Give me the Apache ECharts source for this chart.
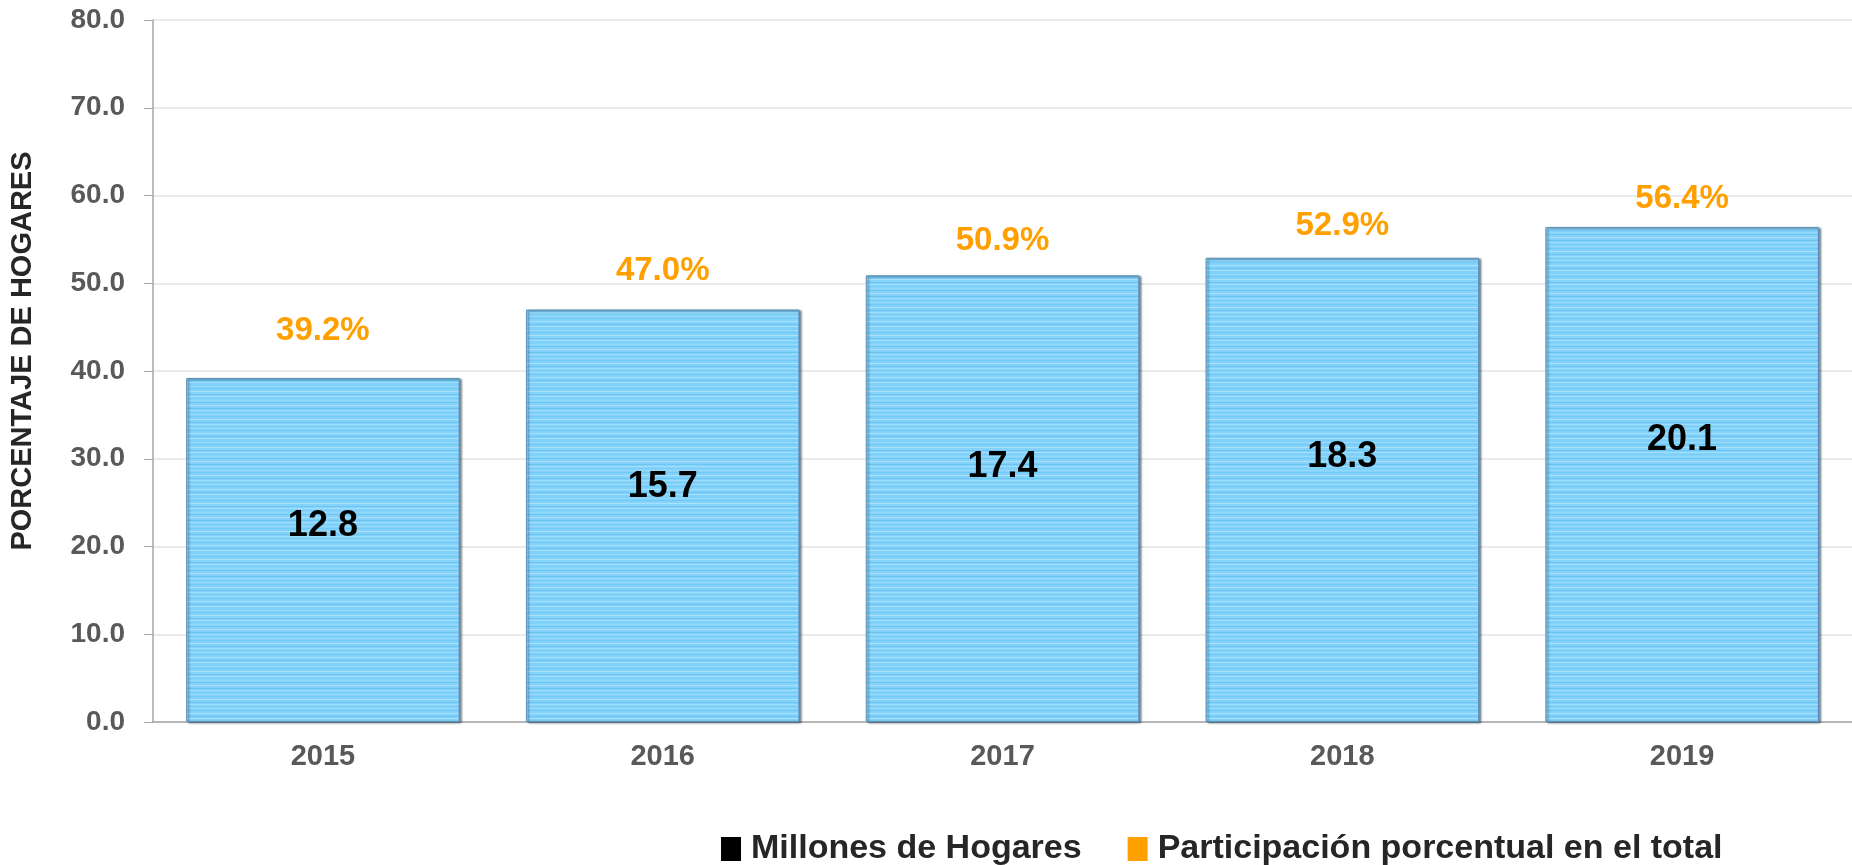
<!DOCTYPE html>
<html>
<head>
<meta charset="utf-8">
<title>Hogares</title>
<script src="https://cdn.jsdelivr.net/npm/echarts@6/dist/echarts.min.js"></script>
<style>
  html, body { margin: 0; padding: 0; background: #fff; }
  #chart { width: 1852px; height: 865px; }
</style>
</head>
<body>
<div id="chart"></div>
<script>
var years = ['2015', '2016', '2017', '2018', '2019'];
var participacion = [39.2, 47.0, 50.9, 52.9, 56.4];   // % del total
var millones = [12.8, 15.7, 17.4, 18.3, 20.1];        // millones de hogares

// textura de lineas horizontales de las barras
function stripes() {
    var rows = ['#84d2f9', '#84d2f9', '#6ac7f5', '#84d2f9', '#a2defb', '#84d2f9',
                '#7ccff8', '#84d2f9', '#95d9fa', '#84d2f9', '#70caf6', '#84d2f9',
                '#84d2f9', '#a8e1fb'];
    var c = document.createElement('canvas');
    c.width = 8;
    c.height = rows.length;
    var ctx = c.getContext('2d');
    rows.forEach(function (col, i) {
        ctx.fillStyle = col;
        ctx.fillRect(0, i, 8, 1);
    });
    return c;
}

var font = '"Liberation Sans", Arial, sans-serif';
var noShadow = { borderWidth: 0, shadowBlur: 0, shadowOffsetX: 0, shadowOffsetY: 0 };
var chart = echarts.init(document.getElementById('chart'));

chart.setOption({
    animation: false,
    textStyle: { fontFamily: font },
    grid: { left: 151, top: 20, bottom: 143, width: 1713 },
    legend: {
        left: 716,
        top: 827,
        itemWidth: 20,
        itemHeight: 24,
        itemGap: 46,
        textStyle: { fontSize: 34, fontWeight: 'bold', color: '#262626', padding: [0, 0, 0, 5] },
        data: [
            { name: 'Millones de Hogares', icon: 'rect', itemStyle: Object.assign({ color: '#000' }, noShadow) },
            { name: 'Participación porcentual en el total', icon: 'rect', itemStyle: Object.assign({ color: '#ffa000' }, noShadow) }
        ]
    },
    xAxis: {
        type: 'category',
        data: years,
        axisLine: { lineStyle: { color: '#a6a6a6', width: 1.5 } },
        axisTick: { length: 10, lineStyle: { color: '#8c8c8c', width: 1.5 } },
        axisLabel: { fontSize: 29, fontWeight: 'bold', color: '#595959', margin: 20 }
    },
    yAxis: [
        {
            type: 'value',
            min: 0,
            max: 80,
            interval: 10,
            name: 'PORCENTAJE DE HOGARES',
            nameLocation: 'middle',
            nameGap: 116,
            nameTextStyle: { fontSize: 29, fontWeight: 'bold', color: '#262626', padding: [0, 0, 0, 40] },
            axisLine: { show: true, lineStyle: { color: '#a6a6a6', width: 1.5 } },
            axisTick: { show: true, inside: false, length: 9, lineStyle: { color: '#a6a6a6' } },
            splitLine: { lineStyle: { color: '#e3e3e3', width: 1.5 } },
            axisLabel: {
                fontSize: 28, fontWeight: 'bold', color: '#595959', margin: 28,
                formatter: function (v) { return v.toFixed(1); }
            }
        },
        {
            // eje secundario oculto para las etiquetas de porcentaje
            type: 'value',
            min: -12,
            max: 79.8,
            show: false,
            splitLine: { show: false }
        }
    ],
    series: [
        {
            name: 'Participación porcentual en el total',
            type: 'bar',
            barWidth: '80.5%',
            data: participacion,
            itemStyle: {
                color: { image: stripes(), repeat: 'repeat' },
                borderColor: '#5d8fb3',
                borderWidth: 1,
                shadowColor: 'rgba(20,50,80,0.6)',
                shadowBlur: 2,
                shadowOffsetX: 2,
                shadowOffsetY: 1
            },
            z: 2
        },
        {
            name: 'Millones de Hogares',
            type: 'bar',
            barWidth: '80.5%',
            barGap: '-100%',
            data: participacion,
            itemStyle: { color: 'rgba(0,0,0,0)' },
            label: {
                show: true,
                position: ['50%', '43%'],
                align: 'center',
                verticalAlign: 'middle',
                fontSize: 36,
                fontWeight: 'bold',
                color: '#000',
                formatter: function (p) { return millones[p.dataIndex].toFixed(1); }
            },
            z: 3
        },
        {
            name: 'Participación porcentual en el total',
            type: 'line',
            yAxisIndex: 1,
            data: participacion,
            symbol: 'circle',
            symbolSize: 0,
            showSymbol: true,
            lineStyle: { width: 0, opacity: 0 },
            itemStyle: { color: '#ffa000' },
            label: {
                show: true,
                position: 'inside',
                align: 'center',
                verticalAlign: 'middle',
                fontSize: 33,
                fontWeight: 'bold',
                color: '#ffa000',
                formatter: function (p) { return p.value.toFixed(1) + '%'; }
            },
            z: 4
        }
    ]
});
</script>
</body>
</html>
